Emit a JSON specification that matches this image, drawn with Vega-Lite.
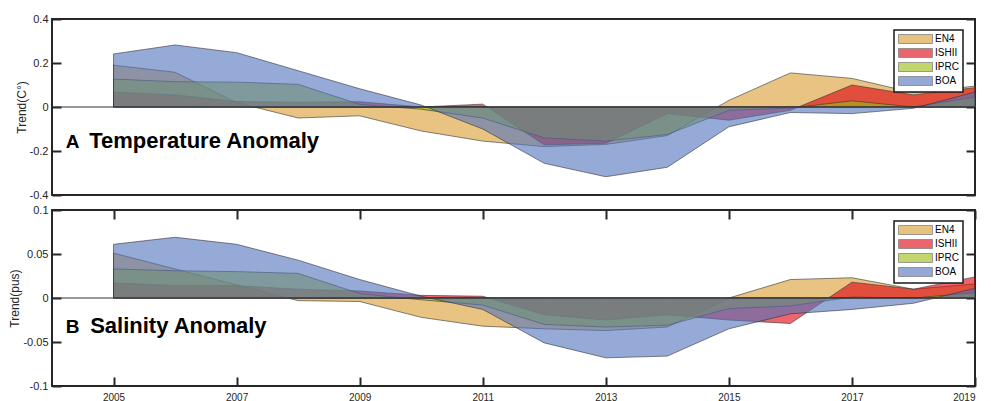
{
"$schema": "https://vega.github.io/schema/vega-lite/v6.json",
"background": "white",
"padding": {"left": 7, "top": 12, "right": 13, "bottom": 0},
"datasets": {
"temp": [
{"year":2005,"s":"EN4","v":0.19},{"year":2006,"s":"EN4","v":0.158},{"year":2007,"s":"EN4","v":0.02},{"year":2008,"s":"EN4","v":-0.05},{"year":2009,"s":"EN4","v":-0.04},{"year":2010,"s":"EN4","v":-0.109},{"year":2011,"s":"EN4","v":-0.155},{"year":2012,"s":"EN4","v":-0.18},{"year":2013,"s":"EN4","v":-0.17},{"year":2014,"s":"EN4","v":-0.13},{"year":2015,"s":"EN4","v":0.03},{"year":2016,"s":"EN4","v":0.155},{"year":2017,"s":"EN4","v":0.13},{"year":2018,"s":"EN4","v":0.065},{"year":2019,"s":"EN4","v":0.095},
{"year":2005,"s":"ISHII","v":0.068},{"year":2006,"s":"ISHII","v":0.055},{"year":2007,"s":"ISHII","v":0.025},{"year":2008,"s":"ISHII","v":0.022},{"year":2009,"s":"ISHII","v":0.024},{"year":2010,"s":"ISHII","v":0.0},{"year":2011,"s":"ISHII","v":0.013},{"year":2012,"s":"ISHII","v":-0.172},{"year":2013,"s":"ISHII","v":-0.165},{"year":2014,"s":"ISHII","v":-0.03},{"year":2015,"s":"ISHII","v":-0.06},{"year":2016,"s":"ISHII","v":-0.015},{"year":2017,"s":"ISHII","v":0.1},{"year":2018,"s":"ISHII","v":0.055},{"year":2019,"s":"ISHII","v":0.088},
{"year":2005,"s":"IPRC","v":0.127},{"year":2006,"s":"IPRC","v":0.115},{"year":2007,"s":"IPRC","v":0.113},{"year":2008,"s":"IPRC","v":0.103},{"year":2009,"s":"IPRC","v":0.012},{"year":2010,"s":"IPRC","v":-0.01},{"year":2011,"s":"IPRC","v":-0.05},{"year":2012,"s":"IPRC","v":-0.14},{"year":2013,"s":"IPRC","v":-0.155},{"year":2014,"s":"IPRC","v":-0.125},{"year":2015,"s":"IPRC","v":-0.015},{"year":2016,"s":"IPRC","v":-0.005},{"year":2017,"s":"IPRC","v":0.028},{"year":2018,"s":"IPRC","v":0.0},{"year":2019,"s":"IPRC","v":0.045},
{"year":2005,"s":"BOA","v":0.241},{"year":2006,"s":"BOA","v":0.282},{"year":2007,"s":"BOA","v":0.247},{"year":2008,"s":"BOA","v":0.165},{"year":2009,"s":"BOA","v":0.083},{"year":2010,"s":"BOA","v":0.009},{"year":2011,"s":"BOA","v":-0.1},{"year":2012,"s":"BOA","v":-0.256},{"year":2013,"s":"BOA","v":-0.317},{"year":2014,"s":"BOA","v":-0.274},{"year":2015,"s":"BOA","v":-0.09},{"year":2016,"s":"BOA","v":-0.025},{"year":2017,"s":"BOA","v":-0.03},{"year":2018,"s":"BOA","v":-0.006},{"year":2019,"s":"BOA","v":0.068}
],
"sal": [
{"year":2005,"s":"EN4","v":0.051},{"year":2006,"s":"EN4","v":0.033},{"year":2007,"s":"EN4","v":0.015},{"year":2008,"s":"EN4","v":-0.003},{"year":2009,"s":"EN4","v":-0.004},{"year":2010,"s":"EN4","v":-0.022},{"year":2011,"s":"EN4","v":-0.032},{"year":2012,"s":"EN4","v":-0.035},{"year":2013,"s":"EN4","v":-0.037},{"year":2014,"s":"EN4","v":-0.033},{"year":2015,"s":"EN4","v":0.0},{"year":2016,"s":"EN4","v":0.021},{"year":2017,"s":"EN4","v":0.023},{"year":2018,"s":"EN4","v":0.01},{"year":2019,"s":"EN4","v":0.016},
{"year":2005,"s":"ISHII","v":0.017},{"year":2006,"s":"ISHII","v":0.014},{"year":2007,"s":"ISHII","v":0.014},{"year":2008,"s":"ISHII","v":0.01},{"year":2009,"s":"ISHII","v":0.008},{"year":2010,"s":"ISHII","v":0.003},{"year":2011,"s":"ISHII","v":0.002},{"year":2012,"s":"ISHII","v":-0.019},{"year":2013,"s":"ISHII","v":-0.025},{"year":2014,"s":"ISHII","v":-0.019},{"year":2015,"s":"ISHII","v":-0.025},{"year":2016,"s":"ISHII","v":-0.029},{"year":2017,"s":"ISHII","v":0.018},{"year":2018,"s":"ISHII","v":0.01},{"year":2019,"s":"ISHII","v":0.024},
{"year":2005,"s":"IPRC","v":0.033},{"year":2006,"s":"IPRC","v":0.031},{"year":2007,"s":"IPRC","v":0.03},{"year":2008,"s":"IPRC","v":0.028},{"year":2009,"s":"IPRC","v":0.005},{"year":2010,"s":"IPRC","v":-0.002},{"year":2011,"s":"IPRC","v":-0.008},{"year":2012,"s":"IPRC","v":-0.03},{"year":2013,"s":"IPRC","v":-0.033},{"year":2014,"s":"IPRC","v":-0.031},{"year":2015,"s":"IPRC","v":-0.012},{"year":2016,"s":"IPRC","v":-0.009},{"year":2017,"s":"IPRC","v":0.001},{"year":2018,"s":"IPRC","v":0.0},{"year":2019,"s":"IPRC","v":0.006},
{"year":2005,"s":"BOA","v":0.061},{"year":2006,"s":"BOA","v":0.069},{"year":2007,"s":"BOA","v":0.061},{"year":2008,"s":"BOA","v":0.043},{"year":2009,"s":"BOA","v":0.021},{"year":2010,"s":"BOA","v":0.002},{"year":2011,"s":"BOA","v":-0.013},{"year":2012,"s":"BOA","v":-0.051},{"year":2013,"s":"BOA","v":-0.068},{"year":2014,"s":"BOA","v":-0.066},{"year":2015,"s":"BOA","v":-0.035},{"year":2016,"s":"BOA","v":-0.018},{"year":2017,"s":"BOA","v":-0.013},{"year":2018,"s":"BOA","v":-0.006},{"year":2019,"s":"BOA","v":0.011}
]
},
"config": {
"font": "Liberation Sans",
"view": {"stroke": "#262626", "strokeWidth": 2},
"axis": {"domain": false, "grid": false, "tickColor": "#262626", "tickWidth": 2, "tickSize": -9, "labelFont": "Liberation Sans", "labelFontSize": 11, "labelColor": "#262626", "labelPadding": 13, "titleFont": "Liberation Sans", "titleFontSize": 12, "titleFontWeight": "normal", "titleColor": "#262626"},
"legend": {"orient": "none", "legendX": 842, "legendY": 11, "title": null, "strokeColor": "#1a1a1a", "strokeWidth": 1.5, "fillColor": "white", "padding": 4, "rowPadding": 0, "symbolType": "M-1,-1H6.556V1H-1Z", "symbolSize": 81, "symbolOpacity": 0.6, "symbolStrokeColor": "#333333", "symbolStrokeWidth": 0.8, "labelFont": "Liberation Sans", "labelFontSize": 10, "labelColor": "#000000", "labelOffset": 27}
},
"spacing": 15,
"bounds": "flush",
"resolve": {"legend": {"color": "independent"}},
"vconcat": [
{
"width": 923, "height": 176,
"resolve": {"axis": {"x": "independent", "y": "independent"}},
"layer": [
{"data": {"name": "temp"}, "transform": [{"filter": "datum.s === 'EN4'"}], "mark": {"type": "area", "fillOpacity": 0.6, "stroke": "#333333", "strokeWidth": 0.6},
 "encoding": {"x": {"field": "year", "type": "quantitative", "scale": {"domain": [2004, 2019], "nice": false, "zero": false}, "axis": null},
  "y": {"field": "v", "type": "quantitative", "stack": null, "scale": {"domain": [-0.4, 0.4], "nice": false}, "axis": {"values": [-0.4, -0.2, 0, 0.2, 0.4], "title": "Trend(C°)", "titlePadding": 1, "labelExpr": "replace(format(datum.value, '~g'), '−', '-')"}},
  "color": {"field": "s", "type": "nominal", "scale": {"domain": ["EN4", "ISHII", "IPRC", "BOA"], "range": ["#D99B2F", "#DE000D", "#9BBC0D", "#5071BC"]}}}},
{"data": {"name": "temp"}, "transform": [{"filter": "datum.s === 'ISHII'"}], "mark": {"type": "area", "fillOpacity": 0.6, "stroke": "#333333", "strokeWidth": 0.6},
 "encoding": {"x": {"field": "year", "type": "quantitative", "scale": {"domain": [2004, 2019], "nice": false, "zero": false}, "axis": null},
  "y": {"field": "v", "type": "quantitative", "stack": null, "scale": {"domain": [-0.4, 0.4], "nice": false}, "axis": null},
  "color": {"field": "s", "type": "nominal", "scale": {"domain": ["EN4", "ISHII", "IPRC", "BOA"], "range": ["#D99B2F", "#DE000D", "#9BBC0D", "#5071BC"]}}}},
{"data": {"name": "temp"}, "transform": [{"filter": "datum.s === 'IPRC'"}], "mark": {"type": "area", "fillOpacity": 0.6, "stroke": "#333333", "strokeWidth": 0.6},
 "encoding": {"x": {"field": "year", "type": "quantitative", "scale": {"domain": [2004, 2019], "nice": false, "zero": false}, "axis": null},
  "y": {"field": "v", "type": "quantitative", "stack": null, "scale": {"domain": [-0.4, 0.4], "nice": false}, "axis": null},
  "color": {"field": "s", "type": "nominal", "scale": {"domain": ["EN4", "ISHII", "IPRC", "BOA"], "range": ["#D99B2F", "#DE000D", "#9BBC0D", "#5071BC"]}}}},
{"data": {"name": "temp"}, "transform": [{"filter": "datum.s === 'BOA'"}], "mark": {"type": "area", "fillOpacity": 0.6, "stroke": "#333333", "strokeWidth": 0.6},
 "encoding": {"x": {"field": "year", "type": "quantitative", "scale": {"domain": [2004, 2019], "nice": false, "zero": false}, "axis": null},
  "y": {"field": "v", "type": "quantitative", "stack": null, "scale": {"domain": [-0.4, 0.4], "nice": false}, "axis": null},
  "color": {"field": "s", "type": "nominal", "scale": {"domain": ["EN4", "ISHII", "IPRC", "BOA"], "range": ["#D99B2F", "#DE000D", "#9BBC0D", "#5071BC"]}}}},
{"data": {"values": [{}]}, "mark": {"type": "rule", "color": "#333333", "strokeWidth": 1},
 "encoding": {"y": {"datum": 0, "type": "quantitative", "scale": {"domain": [-0.4, 0.4], "nice": false}, "axis": {"orient": "right", "values": [-0.4, -0.2, 0, 0.2, 0.4], "labels": false, "title": null}}}},
{"data": {"values": [{}]}, "mark": {"type": "text", "align": "left", "baseline": "alphabetic", "fontSize": 19, "fontWeight": "bold", "font": "Liberation Sans", "color": "#000000"},
 "encoding": {"x": {"datum": 2004.225, "type": "quantitative", "scale": {"domain": [2004, 2019], "nice": false, "zero": false}, "axis": null}, "y": {"datum": -0.188, "type": "quantitative", "scale": {"domain": [-0.4, 0.4], "nice": false}, "axis": null}, "text": {"value": "A"}}},
{"data": {"values": [{}]}, "mark": {"type": "text", "align": "left", "baseline": "alphabetic", "fontSize": 22, "fontWeight": "bold", "font": "Liberation Sans", "color": "#000000"},
 "encoding": {"x": {"datum": 2004.605, "type": "quantitative", "scale": {"domain": [2004, 2019], "nice": false, "zero": false}, "axis": null}, "y": {"datum": -0.188, "type": "quantitative", "scale": {"domain": [-0.4, 0.4], "nice": false}, "axis": null}, "text": {"value": "Temperature Anomaly"}}}
]
},
{
"width": 923, "height": 176,
"resolve": {"axis": {"x": "independent", "y": "independent"}},
"layer": [
{"data": {"name": "sal"}, "transform": [{"filter": "datum.s === 'EN4'"}], "mark": {"type": "area", "fillOpacity": 0.6, "stroke": "#333333", "strokeWidth": 0.6},
 "encoding": {"x": {"field": "year", "type": "quantitative", "scale": {"domain": [2004, 2019], "nice": false, "zero": false}, "axis": {"values": [2005, 2007, 2009, 2011, 2013, 2015, 2017, 2019], "format": "d", "title": null, "labelFontSize": 10, "labelPadding": 15}},
  "y": {"field": "v", "type": "quantitative", "stack": null, "scale": {"domain": [-0.1, 0.1], "nice": false}, "axis": {"values": [-0.1, -0.05, 0, 0.05, 0.1], "title": "Trend(pus)", "titlePadding": 1, "labelExpr": "replace(format(datum.value, '~g'), '−', '-')"}},
  "color": {"field": "s", "type": "nominal", "scale": {"domain": ["EN4", "ISHII", "IPRC", "BOA"], "range": ["#D99B2F", "#DE000D", "#9BBC0D", "#5071BC"]}}}},
{"data": {"name": "sal"}, "transform": [{"filter": "datum.s === 'ISHII'"}], "mark": {"type": "area", "fillOpacity": 0.6, "stroke": "#333333", "strokeWidth": 0.6},
 "encoding": {"x": {"field": "year", "type": "quantitative", "scale": {"domain": [2004, 2019], "nice": false, "zero": false}, "axis": null},
  "y": {"field": "v", "type": "quantitative", "stack": null, "scale": {"domain": [-0.1, 0.1], "nice": false}, "axis": null},
  "color": {"field": "s", "type": "nominal", "scale": {"domain": ["EN4", "ISHII", "IPRC", "BOA"], "range": ["#D99B2F", "#DE000D", "#9BBC0D", "#5071BC"]}}}},
{"data": {"name": "sal"}, "transform": [{"filter": "datum.s === 'IPRC'"}], "mark": {"type": "area", "fillOpacity": 0.6, "stroke": "#333333", "strokeWidth": 0.6},
 "encoding": {"x": {"field": "year", "type": "quantitative", "scale": {"domain": [2004, 2019], "nice": false, "zero": false}, "axis": null},
  "y": {"field": "v", "type": "quantitative", "stack": null, "scale": {"domain": [-0.1, 0.1], "nice": false}, "axis": null},
  "color": {"field": "s", "type": "nominal", "scale": {"domain": ["EN4", "ISHII", "IPRC", "BOA"], "range": ["#D99B2F", "#DE000D", "#9BBC0D", "#5071BC"]}}}},
{"data": {"name": "sal"}, "transform": [{"filter": "datum.s === 'BOA'"}], "mark": {"type": "area", "fillOpacity": 0.6, "stroke": "#333333", "strokeWidth": 0.6},
 "encoding": {"x": {"field": "year", "type": "quantitative", "scale": {"domain": [2004, 2019], "nice": false, "zero": false}, "axis": null},
  "y": {"field": "v", "type": "quantitative", "stack": null, "scale": {"domain": [-0.1, 0.1], "nice": false}, "axis": null},
  "color": {"field": "s", "type": "nominal", "scale": {"domain": ["EN4", "ISHII", "IPRC", "BOA"], "range": ["#D99B2F", "#DE000D", "#9BBC0D", "#5071BC"]}}}},
{"data": {"values": [{}]}, "mark": {"type": "rule", "color": "#333333", "strokeWidth": 1},
 "encoding": {"y": {"datum": 0, "type": "quantitative", "scale": {"domain": [-0.1, 0.1], "nice": false}, "axis": {"orient": "right", "values": [-0.1, -0.05, 0, 0.05, 0.1], "labels": false, "title": null}}}},
{"data": {"values": [{}]}, "mark": {"type": "text", "align": "left", "baseline": "alphabetic", "fontSize": 19, "fontWeight": "bold", "font": "Liberation Sans", "color": "#000000"},
 "encoding": {"x": {"datum": 2004.225, "type": "quantitative", "scale": {"domain": [2004, 2019], "nice": false, "zero": false}, "axis": {"orient": "top", "values": [2005, 2007, 2009, 2011, 2013, 2015, 2017, 2019], "labels": false, "title": null}}, "y": {"datum": -0.0394, "type": "quantitative", "scale": {"domain": [-0.1, 0.1], "nice": false}, "axis": null}, "text": {"value": "B"}}},
{"data": {"values": [{}]}, "mark": {"type": "text", "align": "left", "baseline": "alphabetic", "fontSize": 22, "fontWeight": "bold", "font": "Liberation Sans", "color": "#000000"},
 "encoding": {"x": {"datum": 2004.62, "type": "quantitative", "scale": {"domain": [2004, 2019], "nice": false, "zero": false}, "axis": null}, "y": {"datum": -0.0394, "type": "quantitative", "scale": {"domain": [-0.1, 0.1], "nice": false}, "axis": null}, "text": {"value": "Salinity Anomaly"}}}
]
}
]
}
